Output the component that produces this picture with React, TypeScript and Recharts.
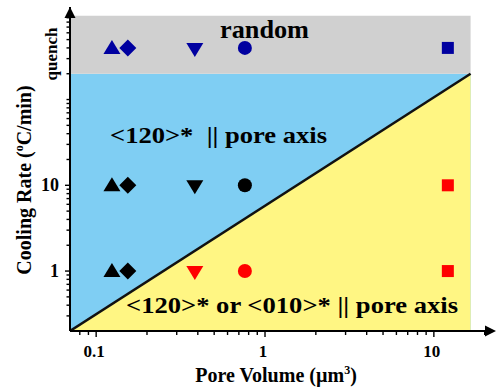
import { Area, ComposedChart, ReferenceArea, ReferenceDot, Scatter, XAxis, YAxis } from 'recharts';

const QUENCH = 400;
const RATE_ROWS = [QUENCH, 10, 1];
const VOLUMES = [0.124, 0.154, 0.384, 0.76, 12.1];
const SHAPES = ['triangle', 'diamond', 'triangleDown', 'circle', 'square'];

const BLUE = '#0000a0';
const BLACK = '#000000';
const RED = '#ff0000';
const ROW_COLORS = [
  [BLUE, BLUE, BLUE, BLUE, BLUE],
  [BLACK, BLACK, BLACK, BLACK, RED],
  [BLACK, BLACK, RED, RED, RED]
];

const X_DOMAIN = [0.07, 21.5];
const Y_DOMAIN = [0.2, 1200];
const REGION_RIGHT = 16.5;
const RANDOM_LOW = 200;
const RANDOM_HIGH = 950;
const BOUNDARY = [
  { v: 0.07, r: 0.2 },
  { v: 16.5, r: 200 }
];

const X_TICKS = [0.08, 0.09, 0.1, 0.2, 0.3, 0.4, 0.5, 0.6, 0.7, 0.8, 0.9, 1, 2, 3, 4, 5, 6, 7, 8, 9, 10, 20];
const X_LABELS: Record<number, string> = { 0.1: '0.1', 1: '1', 10: '10' };
const Y_TICKS = [
  0.3, 0.4, 0.5, 0.6, 0.7, 0.8, 0.9, 1, 2, 3, 4, 5, 6, 7, 8, 9, 10, 20, 30, 40, 50, 60, 70, 80, 90, 100, 200,
  300, 400, 500, 600, 700, 800, 900
];
const Y_LABELS: Record<number, string> = { 1: '1', 10: '10' };

const FONT = '"Liberation Serif", "Times New Roman", serif';

function XTick({ x, y, payload }: any) {
  const label = X_LABELS[payload.value];
  return (
    <g>
      <line x1={x} x2={x} y1={y} y2={y + (label ? 6 : 4)} stroke="#000" strokeWidth={1.4} />
      {label && (
        <text x={x - 2} y={y + 26} textAnchor="middle" fontFamily={FONT} fontWeight="bold" fontSize={17} fill="#000">
          {label}
        </text>
      )}
    </g>
  );
}

function YTick({ x, y, payload }: any) {
  const label = Y_LABELS[payload.value];
  return (
    <g>
      <line x1={x} x2={x - (label ? 5 : 3.5)} y1={y} y2={y} stroke="#000" strokeWidth={1.4} />
      {label && (
        <text x={x - 11} y={y + 6} textAnchor="end" fontFamily={FONT} fontWeight="bold" fontSize={18} fill="#000">
          {label}
        </text>
      )}
      {payload.value === QUENCH && (
        <text
          x={x - 18}
          y={y + 6}
          transform={`rotate(-90, ${x - 18}, ${y + 6})`}
          textAnchor="middle"
          dominantBaseline="central"
          fontFamily={FONT}
          fontWeight="bold"
          fontSize={17}
          fill="#000"
        >
          quench
        </text>
      )}
    </g>
  );
}

function Marker({ kind, cx, cy, payload }: any) {
  const fill = payload.color;
  if (kind === 'triangle') {
    return <polygon points={`${cx},${cy - 8} ${cx - 8.5},${cy + 6} ${cx + 8.5},${cy + 6}`} fill={fill} />;
  }
  if (kind === 'triangleDown') {
    return <polygon points={`${cx - 8.5},${cy - 5} ${cx + 8.5},${cy - 5} ${cx},${cy + 9}`} fill={fill} />;
  }
  if (kind === 'diamond') {
    return <polygon points={`${cx},${cy - 8.5} ${cx + 8.5},${cy} ${cx},${cy + 8.5} ${cx - 8.5},${cy}`} fill={fill} />;
  }
  if (kind === 'circle') {
    return <circle cx={cx} cy={cy} r={7} fill={fill} />;
  }
  return <rect x={cx - 6} y={cy - 6} width={12} height={12} fill={fill} />;
}

function UpArrow({ cx, cy }: any) {
  return <polygon points={`${cx},${cy} ${cx - 5.5},${cy + 11} ${cx + 5.5},${cy + 11}`} fill="#000" />;
}

function RightArrow({ cx, cy }: any) {
  return <polygon points={`${cx + 6},${cy} ${cx - 5},${cy - 5.5} ${cx - 5},${cy + 5.5}`} fill="#000" />;
}

export default function App() {
  return (
    <div style={{ position: 'absolute', left: 0, top: 0, width: 496, height: 390, background: '#fff' }}>
      <ComposedChart width={496} height={390} margin={{ top: 7, right: 6, bottom: 0, left: 0 }}>
        <XAxis
          type="number"
          dataKey="v"
          scale="log"
          domain={X_DOMAIN}
          allowDataOverflow
          ticks={X_TICKS}
          interval={0}
          tick={<XTick />}
          tickSize={0}
          tickMargin={0}
          tickLine={false}
          axisLine={{ stroke: '#000', strokeWidth: 2 }}
          height={59}
        />
        <YAxis
          type="number"
          dataKey="r"
          scale="log"
          domain={Y_DOMAIN}
          allowDataOverflow
          ticks={Y_TICKS}
          interval={0}
          tick={<YTick />}
          tickSize={0}
          tickMargin={0}
          tickLine={false}
          axisLine={{ stroke: '#000', strokeWidth: 2 }}
          width={70}
        />
        <ReferenceArea x1={X_DOMAIN[0]} x2={REGION_RIGHT} y1={Y_DOMAIN[0]} y2={RANDOM_LOW} fill="#7fcef3" fillOpacity={1} stroke="none" />
        <ReferenceArea x1={X_DOMAIN[0]} x2={REGION_RIGHT} y1={RANDOM_LOW} y2={RANDOM_HIGH} fill="#d0d0d0" fillOpacity={1} stroke="none" />
        <Area
          data={BOUNDARY}
          dataKey="r"
          type="linear"
          baseValue={Y_DOMAIN[0]}
          fill="#fff683"
          fillOpacity={1}
          stroke="#111"
          strokeWidth={2.5}
          dot={false}
          activeDot={false}
          isAnimationActive={false}
        />
        {SHAPES.map((kind, i) => (
          <Scatter
            key={kind}
            data={RATE_ROWS.map((r, j) => ({ v: VOLUMES[i], r, color: ROW_COLORS[j][i] }))}
            shape={(p: any) => <Marker kind={kind} {...p} />}
            isAnimationActive={false}
          />
        ))}
        <ReferenceDot x={X_DOMAIN[0]} y={Y_DOMAIN[1]} r={0} shape={<UpArrow />} ifOverflow="visible" />
        <ReferenceDot x={X_DOMAIN[1]} y={Y_DOMAIN[0]} r={0} shape={<RightArrow />} ifOverflow="visible" />
      </ComposedChart>
      {/* region labels and axis titles drawn on top of the filled areas */}
      <svg
        width={496}
        height={390}
        style={{ position: 'absolute', left: 0, top: 0, pointerEvents: 'none' }}
        fontFamily={FONT}
        fontWeight="bold"
        fill="#000"
      >
        <text x={220} y={38} fontSize={25} textLength={89} lengthAdjust="spacingAndGlyphs">
          random
        </text>
        <text x={110} y={143} fontSize={24} style={{ whiteSpace: 'pre' }} textLength={217} lengthAdjust="spacingAndGlyphs">
          {'<120>*  || pore axis'}
        </text>
        <text x={126} y={313} fontSize={24} textLength={332} lengthAdjust="spacingAndGlyphs">
          {'<120>* or <010>* || pore axis'}
        </text>
        <text x={276} y={382} textAnchor="middle" fontSize={20}>
          Pore Volume (µm
          <tspan fontSize={12} dy={-8}>
            3
          </tspan>
          <tspan dy={8}>)</tspan>
        </text>
        <text x={31} y={180} transform="rotate(-90, 31, 180)" textAnchor="middle" fontSize={20}>
          Cooling Rate (
          <tspan fontSize={12} dy={-8}>
            o
          </tspan>
          <tspan dy={8}>C/min)</tspan>
        </text>
      </svg>
    </div>
  );
}
